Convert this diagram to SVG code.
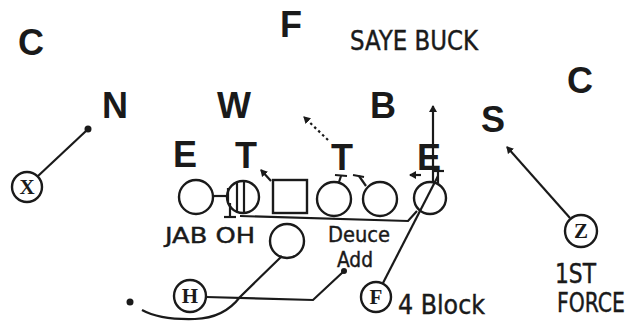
<svg xmlns="http://www.w3.org/2000/svg" width="639" height="322" viewBox="0 0 639 322">
<defs>
<style>
.big{font-family:"Liberation Sans",Arial,sans-serif;font-weight:bold;font-size:36px;fill:#1a1a1a;text-anchor:middle}
.lbl{font-family:"Liberation Sans Narrow","DejaVu Sans Condensed","Liberation Sans",sans-serif;fill:#1a1a1a;stroke:#1a1a1a;stroke-width:0.4}
.sym{font-family:"Liberation Serif","DejaVu Serif",serif;font-weight:bold;font-size:21px;fill:#1a1a1a;text-anchor:middle}
.pl{fill:none;stroke:#1a1a1a;stroke-width:2.4}
.ln{fill:none;stroke:#1a1a1a;stroke-width:2.2}
.dot{fill:#1a1a1a}
</style>
<marker id="ah" markerWidth="8" markerHeight="8" refX="6" refY="4" orient="auto" markerUnits="userSpaceOnUse">
<path d="M0,0 L7,4 L0,8 Z" fill="#1a1a1a"/>
</marker>
</defs>
<rect width="639" height="322" fill="#ffffff"/>

<g id="title"><text class="lbl" x="350" y="50" font-size="26" textLength="128" lengthAdjust="spacingAndGlyphs">SAYE BUCK</text></g>

<g id="def-C-left"><text class="big" x="31" y="55">C</text></g>
<g id="def-F"><text class="big" x="291" y="37">F</text></g>
<g id="def-C-right"><text class="big" x="580" y="93">C</text></g>
<g id="def-N"><text class="big" x="115" y="118">N</text></g>
<g id="def-W"><text class="big" x="234" y="118">W</text></g>
<g id="def-B"><text class="big" x="383" y="118">B</text></g>
<g id="def-S"><text class="big" x="493" y="132">S</text></g>
<g id="def-E-left"><text class="big" x="185" y="167">E</text></g>
<g id="def-T-left"><text class="big" x="246" y="168">T</text></g>
<g id="def-T-right"><text class="big" x="342" y="170">T</text></g>
<g id="def-E-right"><text class="big" x="429" y="170">E</text></g>

<g id="X"><circle class="pl" cx="27" cy="187" r="15"/><text class="sym" x="27" y="194">X</text></g>
<g id="LT"><circle class="pl" cx="196" cy="197" r="17"/></g>
<g id="LG"><circle class="pl" cx="243" cy="197" r="16"/><line class="ln" x1="237" y1="183" x2="237" y2="212"/><line class="ln" x1="244" y1="181" x2="244" y2="213"/></g>
<g id="Center"><rect class="pl" x="273" y="180" width="34" height="33"/></g>
<g id="RG"><circle class="pl" cx="334" cy="199" r="17"/></g>
<g id="RT"><circle class="pl" cx="380" cy="199" r="17"/></g>
<g id="Y"><circle class="pl" cx="430" cy="198" r="16"/></g>
<g id="QB"><circle class="pl" cx="287" cy="241" r="17"/></g>
<g id="H"><circle class="pl" cx="190" cy="296" r="16"/><text class="sym" x="190" y="303">H</text></g>
<g id="Fb"><circle class="pl" cx="376" cy="297" r="15"/><text class="sym" x="376" y="304">F</text></g>
<g id="Z"><circle class="pl" cx="581" cy="231" r="16"/><text class="sym" x="581" y="238">Z</text></g>

<g id="labels">
<text class="lbl" x="165" y="243" font-size="21" textLength="90" lengthAdjust="spacingAndGlyphs">JAB OH</text>
<text class="lbl" x="328" y="242" font-size="22" textLength="62" lengthAdjust="spacingAndGlyphs">Deuce</text>
<text class="lbl" x="337" y="267" font-size="22" textLength="36" lengthAdjust="spacingAndGlyphs">Add</text>
<text class="lbl" x="398" y="314" font-size="26" textLength="87" lengthAdjust="spacingAndGlyphs">4 Block</text>
<text class="lbl" x="555" y="283" font-size="26" textLength="41" lengthAdjust="spacingAndGlyphs">1ST</text>
<text class="lbl" x="557" y="312" font-size="26" textLength="68" lengthAdjust="spacingAndGlyphs">FORCE</text>
</g>

<g id="connectors">
<line class="ln" x1="38" y1="176" x2="86" y2="131"/>
<circle class="dot" cx="88" cy="129" r="3.5"/>
<line class="ln" x1="570" y1="218" x2="507" y2="147" marker-end="url(#ah)"/>
<line class="ln" x1="328" y1="140" x2="304" y2="117" stroke-dasharray="2.5,3" marker-end="url(#ah)"/>
<line class="ln" x1="433" y1="183" x2="433" y2="106" marker-end="url(#ah)"/>
<line class="ln" x1="383" y1="283" x2="438" y2="176"/>
<polyline class="ln" points="240,216 408,221 417,211"/>
<polyline class="ln" points="206,297 313,300 343,272"/>
<circle class="dot" cx="344" cy="271" r="3"/>
<path class="ln" d="M282,256 L240,297 Q224,318 195,319 Q160,320 142,310"/>
<circle class="dot" cx="130" cy="302" r="3.5"/>
<line class="ln" x1="213" y1="196" x2="228" y2="196"/>
<line class="ln" x1="228" y1="188" x2="228" y2="203"/>
<line class="ln" x1="230" y1="203" x2="230" y2="216"/>
<line class="ln" x1="224" y1="217" x2="236" y2="217"/>
<line class="ln" x1="271" y1="181" x2="261" y2="170" marker-end="url(#ah)"/>
<line class="ln" x1="339" y1="182" x2="341" y2="176"/>
<line class="ln" x1="335" y1="175" x2="347" y2="176"/>
<line class="ln" x1="366" y1="186" x2="359" y2="176"/>
<line class="ln" x1="353" y1="175" x2="364" y2="177"/>
<line class="ln" x1="421" y1="175" x2="410" y2="175" marker-end="url(#ah)"/>
<line class="ln" x1="438" y1="183" x2="438" y2="172"/>
<line class="ln" x1="432" y1="171" x2="444" y2="171"/>
</g>
</svg>
